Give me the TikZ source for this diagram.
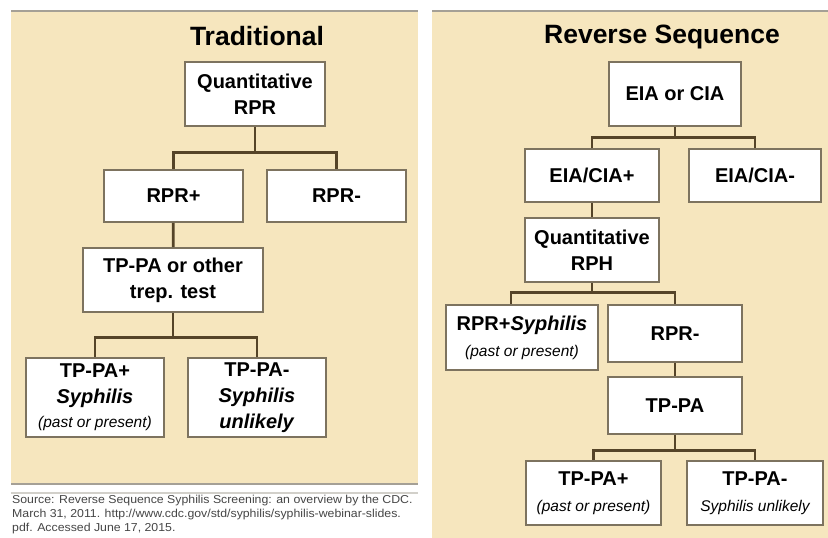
\documentclass[tikz,border=0pt]{standalone}
\usepackage{fontspec}
\setmainfont{Liberation Sans}
\newfontfamily\footfont[FakeStretch=1.07]{Liberation Sans}
\usepackage{tikz}
\usetikzlibrary{positioning}
\definecolor{PanelTan}{RGB}{246,230,190}
\definecolor{EdgeGray}{RGB}{125,115,95}
\definecolor{LinkBrown}{RGB}{85,68,40}
\definecolor{RuleGray}{RGB}{165,160,150}
\definecolor{FootGray}{RGB}{70,70,70}

\begin{document}
\begin{tikzpicture}[
  x=1pt, y=-1pt,
  font=\fontsize{20}{26}\selectfont\bfseries,
  box/.style={rectangle, draw=EdgeGray, line width=1.6pt, fill=white,
              align=center, inner sep=0pt},
  link/.style={LinkBrown, line width=2.8pt},
  title/.style={font=\fontsize{26.5}{30}\selectfont\bfseries},
  rule/.style={RuleGray, line width=2pt},
]
\useasboundingbox (0,0) rectangle (828,538);
\fill[white] (0,0) rectangle (828,538);

% panels
\fill[PanelTan] (11,10) rectangle (418,483);
\fill[PanelTan] (432,10) rectangle (828,538);
\draw[rule] (11,11) -- (418,11);
\draw[rule] (432,11) -- (828,11);
\draw[rule] (11,484) -- (418,484);
\draw[rule, RuleGray!50] (11,493) -- (418,493);

% traditional
\node[title] (tradtitle) at (257,36) {Traditional};
\node[box, minimum width=140pt, minimum height=64pt] (qrpr) at (255,94)
  {\fontsize{20}{27}\selectfont Quantitative\\RPR};
\node[box, minimum width=139pt, minimum height=52pt] (rprp) at (173.5,196) {RPR+};
\node[box, minimum width=139pt, minimum height=52pt] (rprn) at (336.5,196) {RPR-};
\node[box, minimum width=180pt, minimum height=64pt] (trep) at (173,280)
  {\fontsize{20}{27}\selectfont TP-PA or other\\trep. test};
\node[box, minimum width=138pt, minimum height=79pt] (tpp) at (95,397.5)
  {\fontsize{20}{24}\selectfont TP-PA+\\\textit{Syphilis}\\[-2pt]{\fontsize{15.5}{19}\selectfont\mdseries\itshape (past or present)}};
\node[box, minimum width=138pt, minimum height=79pt] (tpn) at (257,397.5)
  {\fontsize{20}{24}\selectfont TP-PA-\\\textit{Syphilis}\\\textit{unlikely}};

\draw[link] (qrpr.south) -- ++(0,26) -| (rprp.north);
\draw[link] (qrpr.south) ++(0,26) -| (rprn.north);
\draw[link] (rprp) -- (trep);
\draw[link] (trep.south) -- ++(0,25) -| (tpp.north);
\draw[link] (trep.south) ++(0,25) -| (tpn.north);

% reverse sequence
\node[title] (revtitle) at (662,37) {Reverse Sequence};
\node[box, minimum width=132pt, minimum height=64pt] (eia) at (675,94) {EIA or CIA};
\node[box, minimum width=134pt, minimum height=53pt] (eiap) at (592,175.5) {EIA/CIA+};
\node[box, minimum width=132pt, minimum height=53pt] (eian) at (755,175.5) {EIA/CIA-};
\node[box, minimum width=134pt, minimum height=64pt] (qrph) at (592,250)
  {\fontsize{20}{27}\selectfont Quantitative\\RPH};
\node[box, minimum width=152pt, minimum height=65pt] (rprs) at (522,337.5)
  {\fontsize{20}{22}\selectfont RPR+\textit{Syphilis}\\{\fontsize{15.5}{19}\selectfont\mdseries\itshape (past or present)}};
\node[box, minimum width=134pt, minimum height=57pt] (rprn2) at (675,333.5) {RPR-};
\node[box, minimum width=134pt, minimum height=57pt] (tppa) at (675,405.5) {TP-PA};
\node[box, minimum width=135pt, minimum height=64pt] (tpp2) at (593.5,493)
  {\fontsize{20}{22}\selectfont TP-PA+\\{\fontsize{15.5}{19}\selectfont\mdseries\itshape (past or present)}};
\node[box, minimum width=136pt, minimum height=64pt] (tpn2) at (755,493)
  {\fontsize{20}{22}\selectfont TP-PA-\\{\fontsize{15.5}{19}\selectfont\mdseries\itshape Syphilis unlikely}};

\draw[link] (eia.south) -- ++(0,11) -| (eiap.north);
\draw[link] (eia.south) ++(0,11) -| (eian.north);
\draw[link] (eiap) -- (qrph);
\draw[link] (qrph.south) -- ++(0,10) -| ([xshift=-11pt]rprs.north);
\draw[link] (qrph.south) ++(0,10) -| (rprn2.north);
\draw[link] (rprn2) -- (tppa);
\draw[link] (tppa.south) -- ++(0,16) -| (tpp2.north);
\draw[link] (tppa.south) ++(0,16) -| (tpn2.north);

% source
\node[anchor=north west, align=left, inner sep=0pt, text=FootGray,
      font=\footfont\fontsize{11.5}{14}\selectfont] (source) at (12,495)
  {Source: Reverse Sequence Syphilis Screening: an overview by the CDC.\\
   March 31, 2011. http://www.cdc.gov/std/syphilis/syphilis-webinar-slides.\\
   pdf. Accessed June 17, 2015.};
\end{tikzpicture}
\end{document}
